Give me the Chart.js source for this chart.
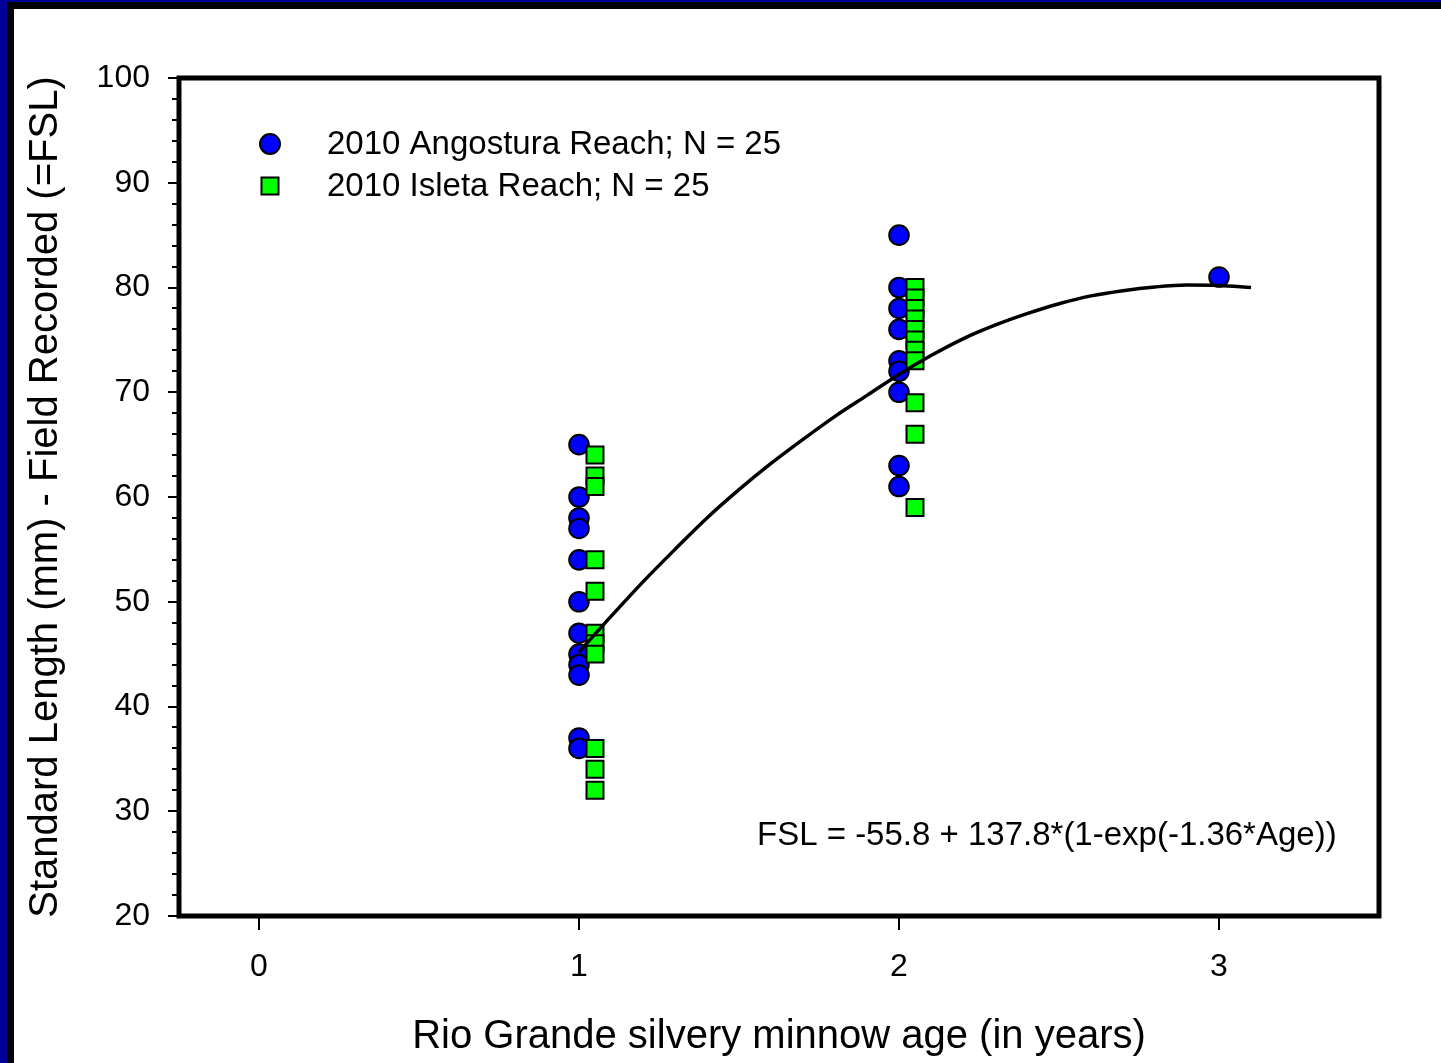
<!DOCTYPE html>
<html>
<head>
<meta charset="utf-8">
<script src="https://cdn.jsdelivr.net/npm/chart.js@4.4.1/dist/chart.umd.min.js"></script>
<style>
  html, body { margin: 0; padding: 0; background: #fff; overflow: hidden; }
  canvas { display: block; }
</style>
</head>
<body>
<canvas id="myChart" width="1441" height="1063"></canvas>
<script>
// values
const angosturaAge = [1, 1, 1, 1, 1, 1, 1, 1, 1, 1, 1, 1,
                      2, 2, 2, 2, 2, 2, 2, 2, 2,
                      3];
const angosturaFSL = [65, 60, 58, 57, 54, 50, 47, 45, 44, 43, 37, 36,
                      85, 80, 78, 76, 73, 72, 70, 63, 61,
                      81];

const isletaAge = [1.05, 1.05, 1.05, 1.05, 1.05, 1.05, 1.05, 1.05, 1.05, 1.05, 1.05,
                   2.05, 2.05, 2.05, 2.05, 2.05, 2.05, 2.05, 2.05, 2.05, 2.05, 2.05];
const isletaFSL = [64, 62, 61, 54, 51, 47, 46, 45, 36, 34, 32,
                   80, 79, 78, 77, 76, 75, 74, 73, 69, 66, 59];

// fitted curve, points
const fitAge = [1.0, 1.1, 1.2, 1.3, 1.4, 1.5, 1.6, 1.7, 1.8, 1.9, 2.0,
                2.1, 2.2, 2.3, 2.4, 2.5, 2.6, 2.7, 2.8, 2.9, 3.0, 3.1];
const fitFSL = [45.2, 48.6, 51.9, 55.0, 58.0, 60.7, 63.2, 65.5, 67.7, 69.7, 71.7,
                73.5, 75.1, 76.4, 77.5, 78.45, 79.2, 79.7, 80.05, 80.23, 80.2, 80.0];

const xTicks = [0, 1, 2, 3];
const yTicks = [20, 30, 40, 50, 60, 70, 80, 90, 100];

const seriesNames = ['2010 Angostura Reach; N = 25', '2010 Isleta Reach; N = 25'];
const equation = 'FSL = -55.8 + 137.8*(1-exp(-1.36*Age))';

const toXY = (xs, ys) => xs.map((x, i) => ({ x: x, y: ys[i] }));

Chart.defaults.font.family = '"Liberation Sans", Arial, sans-serif';
Chart.defaults.color = '#000';

const extras = {
  id: 'extras',
  beforeDraw(chart) {
    const ctx = chart.ctx;
    ctx.save();
    ctx.fillStyle = '#fff';
    ctx.fillRect(0, 0, chart.width, chart.height);
    ctx.restore();
  },
  afterDraw(chart) {
    const ctx = chart.ctx;
    const a = chart.chartArea;
    const y = chart.scales.y;
    ctx.save();

    // minor y ticks
    ctx.strokeStyle = '#000';
    ctx.lineWidth = 2;
    for (let v = 22; v < 100; v += 2) {
      if (v % 10 === 0) continue;
      const py = Math.round(y.getPixelForValue(v));
      ctx.beginPath();
      ctx.moveTo(a.left, py);
      ctx.lineTo(a.left - 7, py);
      ctx.stroke();
    }

    // frame
    ctx.lineWidth = 5;
    ctx.strokeRect(a.left, a.top, a.right - a.left, a.bottom - a.top);

    // legend
    ctx.lineWidth = 2;
    ctx.fillStyle = '#0000ff';
    ctx.beginPath();
    ctx.arc(270, 144, 10, 0, Math.PI * 2);
    ctx.fill();
    ctx.stroke();
    ctx.fillStyle = '#00ff00';
    ctx.fillRect(261.5, 177.5, 17, 17);
    ctx.strokeRect(261.5, 177.5, 17, 17);

    ctx.fillStyle = '#000';
    ctx.font = '33px "Liberation Sans", Arial, sans-serif';
    ctx.textBaseline = 'middle';
    ctx.textAlign = 'left';
    ctx.fillText(seriesNames[0], 327, 145);
    ctx.fillText(seriesNames[1], 327, 187);

    // equation
    ctx.fillText(equation, 757, 836);

    // page border
    ctx.fillStyle = '#000099';
    ctx.fillRect(0, 0, chart.width, 2);
    ctx.fillRect(0, 0, 7, chart.height);
    ctx.fillStyle = '#000';
    ctx.fillRect(7, 2, chart.width - 7, 7);
    ctx.fillRect(7, 2, 7, chart.height - 2);
    ctx.restore();
  }
};

const config = {
  type: 'scatter',
  data: {
    datasets: [
      {
        type: 'line',
        label: 'fit',
        data: toXY(fitAge, fitFSL),
        borderColor: '#000',
        borderWidth: 3.5,
        pointRadius: 0,
        cubicInterpolationMode: 'monotone',
        fill: false,
        order: 0
      },
      {
        label: seriesNames[1],
        data: toXY(isletaAge, isletaFSL),
        pointStyle: 'rect',
        pointRadius: 12,
        backgroundColor: '#00ff00',
        borderColor: '#000',
        borderWidth: 2,
        order: 1
      },
      {
        label: seriesNames[0],
        data: toXY(angosturaAge, angosturaFSL),
        pointStyle: 'circle',
        pointRadius: 9.8,
        backgroundColor: '#0000ff',
        borderColor: '#000',
        borderWidth: 2,
        order: 2
      }
    ]
  },
  options: {
    responsive: false,
    animation: false,
    devicePixelRatio: 1,
    layout: { padding: { top: 78, right: 62, left: 0, bottom: 0 } },
    plugins: { legend: { display: false }, tooltip: { enabled: false } },
    scales: {
      x: {
        type: 'linear',
        min: -0.25,
        max: 3.5,
        afterBuildTicks: s => { s.ticks = xTicks.map(v => ({ value: v })); },
        afterFit: s => { s.height = 147; },
        border: { display: false },
        grid: { drawOnChartArea: false, tickLength: 14, color: '#000', lineWidth: 2 },
        ticks: { font: { size: 32 }, color: '#000', padding: 18 },
        title: {
          display: true,
          text: 'Rio Grande silvery minnow age (in years)',
          font: { size: 40 },
          color: '#000',
          padding: { top: 0, bottom: 2 }
        }
      },
      y: {
        type: 'linear',
        min: 20,
        max: 100,
        afterBuildTicks: s => { s.ticks = yTicks.map(v => ({ value: v })); },
        afterFit: s => { s.width = 179; },
        border: { display: false },
        grid: { drawOnChartArea: false, tickLength: 11, color: '#000', lineWidth: 2 },
        ticks: { font: { size: 32 }, color: '#000', padding: 18 },
        title: {
          display: true,
          text: 'Standard Length (mm) - Field Recorded (=FSL)',
          font: { size: 40 },
          color: '#000',
          padding: { top: 22, bottom: 0 }
        }
      }
    }
  },
  plugins: [extras]
};

const myChart = new Chart(document.getElementById('myChart'), config);
</script>
</body>
</html>
